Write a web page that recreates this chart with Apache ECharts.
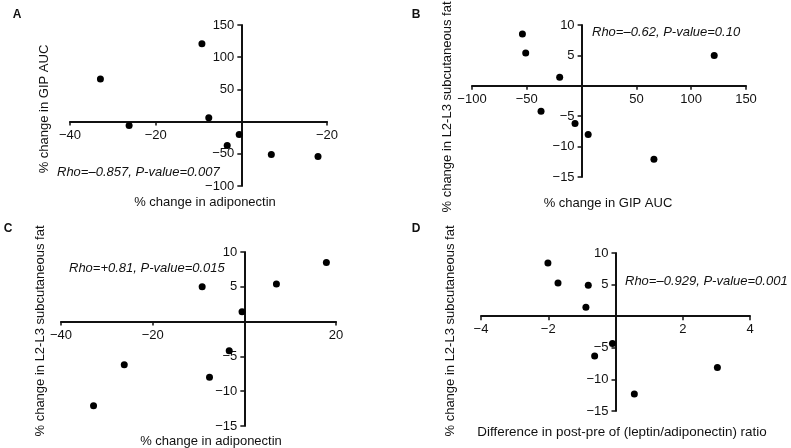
<!DOCTYPE html>
<html>
<head>
<meta charset="utf-8">
<script src="https://cdn.jsdelivr.net/npm/echarts@6/dist/echarts.min.js"></script>
<style>
  html, body { margin: 0; padding: 0; background: #fff; }
  #chart { width: 791px; height: 448px; }
</style>
</head>
<body>
<div id="chart"></div>
<script>
// % change in adiponectin (A, C)
const adiponectin = [-32.9, -26.2, -9.2, -7.6, -3.3, -0.5, 7.0, 17.9];
// % change in GIP AUC (A y, B x)
const gipAuc = [66, -6, 121, 6, -37, -20, -51, -54];
// % change in L2-L3 subcutaneous fat (B, C, D)
const subFat = [-12.1, -6.2, 5.0, -8.0, -4.2, 1.4, 5.4, 8.5];
// difference in post-pre of (leptin/adiponectin) ratio (D)
const leptinRatio = [-0.81, -0.62, 0.56, -0.88, -0.09, 3.03, -1.71, -2.01];
const subFatD = [4.9, -6.3, -12.3, 1.4, -4.3, -8.1, 5.25, 8.4];

// tick labels (0 is not labelled; panel A's right end reads −20 in the figure)
const xTicksA = [-40, -20, 0, 20];
const xLabelsA = ['\u221240', '\u221220', '', '\u221220'];
const yTicksA = [-100, -50, 0, 50, 100, 150];
const yLabelsA = ['\u2212100', '\u221250', '', '50', '100', '150'];
const xTicksB = [-100, -50, 0, 50, 100, 150];
const xLabelsB = ['\u2212100', '\u221250', '', '50', '100', '150'];
const yTicksFat = [-15, -10, -5, 0, 5, 10];
const yLabelsFat = ['\u221215', '\u221210', '\u22125', '', '5', '10'];
const xTicksC = [-40, -20, 0, 20];
const xLabelsC = ['\u221240', '\u221220', '', '20'];
const xTicksD = [-4, -2, 0, 2, 4];
const xLabelsD = ['\u22124', '\u22122', '', '2', '4'];

const FONT = 'Liberation Sans, Arial, Helvetica, sans-serif';
const INK = '#111';

// panel boxes
const grids = [
  { left: 70, top: 25, width: 257, height: 161 },
  { left: 472, top: 25, width: 274, height: 152 },
  { left: 61, top: 252, width: 275, height: 174 },
  { left: 481, top: 253, width: 269, height: 158 }
];

function pairs (xs, ys) {
  return xs.map((x, i) => [x, ys[i]]);
}

// axes cross at 0: shift each axis (with its labels) onto the other axis' zero
function valueAxis (idx, min, max, interval, ticks, labels, isX, otherMin, otherMax) {
  const g = grids[idx];
  const span = isX ? g.height : g.width;
  const frac = isX ? (0 - otherMin) / (otherMax - otherMin) : (0 - otherMin) / (otherMax - otherMin);
  return {
    type: 'value',
    gridIndex: idx,
    min: min,
    max: max,
    interval: interval,
    offset: -span * frac,
    splitLine: { show: false },
    axisLine: { show: true, onZero: false, lineStyle: { color: INK, width: 2 } },
    axisTick: { show: true, length: 4, lineStyle: { color: INK, width: 1.5 } },
    axisLabel: {
      color: INK,
      fontSize: 13,
      fontFamily: FONT,
      margin: 7,
      showMinLabel: true,
      showMaxLabel: true,
      formatter: (v) => {
        const k = ticks.indexOf(v);
        return k < 0 ? '' : labels[k];
      }
    }
  };
}

function txt (x, y, text, opts) {
  return {
    type: 'text',
    x: x,
    y: y,
    rotation: (opts && opts.rotate) ? Math.PI / 2 : 0,
    style: Object.assign({
      text: text,
      fill: INK,
      font: '13px ' + FONT,
      textAlign: 'center',
      textVerticalAlign: 'middle'
    }, (opts && opts.style) || {})
  };
}

const chart = echarts.init(document.getElementById('chart'), null, { renderer: 'canvas' });

chart.setOption({
  animation: false,
  grid: grids,
  xAxis: [
    valueAxis(0, -40, 20, 20, xTicksA, xLabelsA, true, -100, 150),
    valueAxis(1, -100, 150, 50, xTicksB, xLabelsB, true, -15, 10),
    valueAxis(2, -40, 20, 20, xTicksC, xLabelsC, true, -15, 10),
    valueAxis(3, -4, 4, 2, xTicksD, xLabelsD, true, -15, 10)
  ],
  yAxis: [
    valueAxis(0, -100, 150, 50, yTicksA, yLabelsA, false, -40, 20),
    valueAxis(1, -15, 10, 5, yTicksFat, yLabelsFat, false, -100, 150),
    valueAxis(2, -15, 10, 5, yTicksFat, yLabelsFat, false, -40, 20),
    valueAxis(3, -15, 10, 5, yTicksFat, yLabelsFat, false, -4, 4)
  ],
  series: [
    { type: 'scatter', xAxisIndex: 0, yAxisIndex: 0, data: pairs(adiponectin, gipAuc) },
    { type: 'scatter', xAxisIndex: 1, yAxisIndex: 1, data: pairs(gipAuc, subFat) },
    { type: 'scatter', xAxisIndex: 2, yAxisIndex: 2, data: pairs(adiponectin, subFat) },
    { type: 'scatter', xAxisIndex: 3, yAxisIndex: 3, data: pairs(leptinRatio, subFatD) }
  ].map(s => Object.assign(s, {
    symbol: 'circle',
    symbolSize: 7,
    itemStyle: { color: '#000', opacity: 1 },
    z: 5
  })),
  graphic: [
    // panel letters
    txt(17, 15, 'A', { style: { font: 'bold 12px ' + FONT } }),
    txt(416, 15, 'B', { style: { font: 'bold 12px ' + FONT } }),
    txt(8, 229, 'C', { style: { font: 'bold 12px ' + FONT } }),
    txt(416, 229, 'D', { style: { font: 'bold 12px ' + FONT } }),
    // y axis names
    txt(44, 109, '% change in GIP AUC', { rotate: true }),
    txt(447, 107, '% change in L2-L3 subcutaneous fat', { rotate: true }),
    txt(40, 331, '% change in L2-L3 subcutaneous fat', { rotate: true }),
    txt(450, 331, '% change in L2-L3 subcutaneous fat', { rotate: true }),
    // x axis names
    txt(205, 202, '% change in adiponectin'),
    txt(608, 203, '% change in GIP AUC'),
    txt(211, 441, '% change in adiponectin'),
    txt(622, 432, 'Difference in post-pre of (leptin/adiponectin) ratio', { style: { font: '13.4px ' + FONT } }),
    // statistics
    txt(57, 172, 'Rho=\u20130.857, P-value=0.007', { style: { textAlign: 'left', font: 'italic 13px ' + FONT } }),
    txt(592, 32, 'Rho=\u20130.62, P-value=0.10', { style: { textAlign: 'left', font: 'italic 13px ' + FONT } }),
    txt(69, 268, 'Rho=+0.81, P-value=0.015', { style: { textAlign: 'left', font: 'italic 13px ' + FONT } }),
    txt(625, 281, 'Rho=\u20130.929, P-value=0.001', { style: { textAlign: 'left', font: 'italic 13px ' + FONT } })
  ]
});
</script>
</body>
</html>
